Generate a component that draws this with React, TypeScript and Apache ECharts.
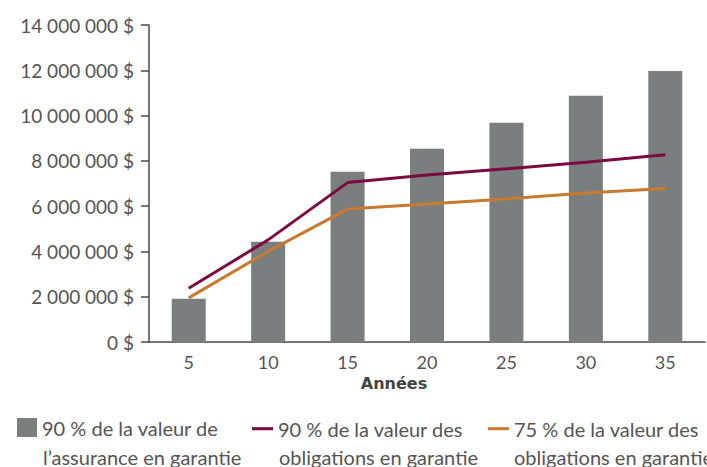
import React, { useEffect, useRef } from "react";
import * as echarts from "echarts";

const categories = ["5", "10", "15", "20", "25", "30", "35"];
const assuranceValues = [1910000, 4430000, 7520000, 8530000, 9680000, 10870000, 11970000];
const obligations90 = [2370000, 4510000, 7040000, 7380000, 7650000, 7940000, 8270000];
const obligations75 = [1950000, 4000000, 5870000, 6100000, 6320000, 6580000, 6780000];
const seriesNames = [
  "90 % de la valeur de",
  "90 % de la valeur des",
  "75 % de la valeur des",
];
const legendSecondLines = [
  "l\u2019assurance en garantie",
  "obligations en garantie",
  "obligations en garantie",
];
const xAxisTitle = "Années";

const FONT = "Lato";
const TEXT = "#555555";

function fmt(v: number): string {
  const s = Math.round(v).toString().replace(/\B(?=(\d{3})+(?!\d))/g, " ");
  return s + " $";
}

export default function App() {
  const ref = useRef<HTMLDivElement>(null);
  useEffect(() => {
    if (!ref.current) return;
    const chart = echarts.init(ref.current, undefined, { renderer: "svg" });
    const legendBase = (left: number, top: number, name: string, w: number, h: number) => ({
      left,
      top,
      orient: "horizontal",
      icon: "rect",
      itemWidth: w,
      itemHeight: h,
      itemGap: 0,
      padding: 0,
      selectedMode: false,
      data: [name],
      textStyle: {
        fontFamily: FONT,
        fontSize: 20,
        color: TEXT,
      },
    });
    const secondLineX = [43, 279, 514];
    chart.setOption({
      animation: false,
      textStyle: { fontFamily: FONT },
      grid: { left: 149, right: 2, top: 25, bottom: 125, containLabel: false },
      legend: [
        legendBase(17, 417.5, seriesNames[0], 20, 19),
        legendBase(252, 418.7, seriesNames[1], 21, 3),
        legendBase(488, 418.7, seriesNames[2], 21, 3),
      ],
      xAxis: {
        type: "category",
        data: categories,
        boundaryGap: true,
        axisLine: { lineStyle: { color: "#4a4a4a", width: 1.5 } },
        axisTick: { show: false },
        axisLabel: { fontFamily: FONT, fontSize: 18, color: TEXT, margin: 11 },
      },
      yAxis: {
        type: "value",
        min: 0,
        max: 14000000,
        interval: 2000000,
        axisLine: { show: true, lineStyle: { color: "#4a4a4a", width: 1.5 } },
        axisTick: { show: true, length: 8, lineStyle: { color: "#4a4a4a", width: 1.5 } },
        splitLine: { show: false },
        axisLabel: {
          fontFamily: FONT,
          fontSize: 19,
          color: TEXT,
          margin: 15,
          formatter: (v: number) => fmt(v),
        },
      },
      graphic: [
        {
          type: "text",
          x: 394,
          y: 383,
          style: {
            text: xAxisTitle,
            fontFamily: "DejaVu Sans",
            fontSize: 16,
            fontWeight: "bold",
            fill: "#444444",
            align: "center",
            verticalAlign: "middle",
          },
        },
        ...legendSecondLines.map((t, i) => ({
          type: "text",
          x: secondLineX[i],
          y: 456.5,
          style: {
            text: t,
            fontFamily: FONT,
            fontSize: 20,
            fill: TEXT,
            align: "left",
            verticalAlign: "middle",
          },
        })),
      ],
      series: [
        {
          name: seriesNames[0],
          type: "bar",
          data: assuranceValues,
          barWidth: 34,
          itemStyle: { color: "#7b7e7e" },
        },
        {
          name: seriesNames[1],
          type: "line",
          data: obligations90,
          symbol: "none",
          lineStyle: { color: "#7b0a40", width: 3 },
          itemStyle: { color: "#7b0a40" },
        },
        {
          name: seriesNames[2],
          type: "line",
          data: obligations75,
          symbol: "none",
          lineStyle: { color: "#c87a2e", width: 3 },
          itemStyle: { color: "#c87a2e" },
        },
      ],
    });
    return () => chart.dispose();
  }, []);
  return <div ref={ref} style={{ width: 707, height: 467, position: "absolute", left: 0, top: 0 }} />;
}
